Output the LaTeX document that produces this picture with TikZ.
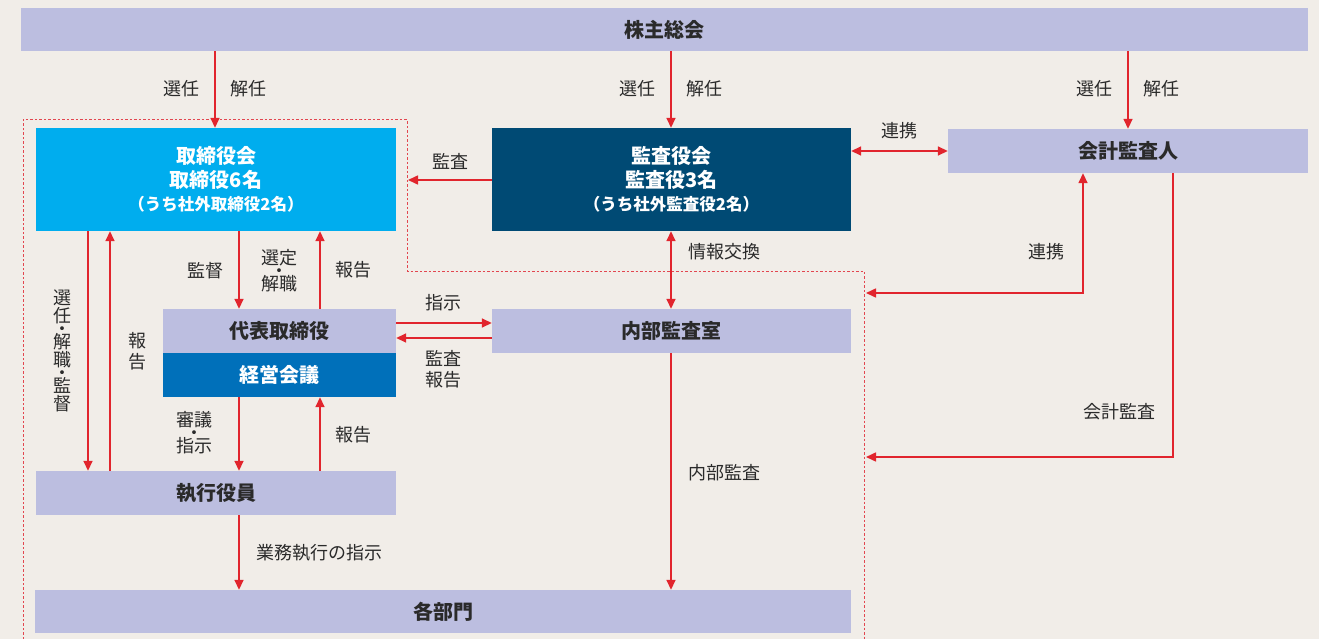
\documentclass[tikz,border=0pt]{standalone}
\usepackage{fontspec}
\setmainfont{Noto Sans CJK JP}
\usetikzlibrary{arrows.meta}
\definecolor{paper}{HTML}{F1EDE8}
\definecolor{lav}{HTML}{BCBEE0}
\definecolor{sky}{HTML}{00ADEE}
\definecolor{navy}{HTML}{004A74}
\definecolor{midblue}{HTML}{0070BA}
\definecolor{arrred}{HTML}{E1252D}
\definecolor{dotred}{HTML}{E2464F}
\definecolor{ink}{HTML}{2A2A2A}
\begin{document}
\begin{tikzpicture}[x=1pt,y=-1pt,
  box/.style={rectangle, inner sep=0pt, fill=lav, text=ink,
    font=\fontsize{20}{24}\selectfont\bfseries, align=center},
  bluebox/.style={box, text=white},
  lbl/.style={inner sep=0pt, text=ink, font=\fontsize{18}{22}\selectfont, align=center},
  arr/.style={draw=arrred, line width=1.6pt, -{Triangle[length=10pt,width=9pt]}},
  arrboth/.style={draw=arrred, line width=1.6pt, {Triangle[length=10pt,width=9pt]}-{Triangle[length=10pt,width=9pt]}},
  bound/.style={draw=dotred, line width=1pt, dash pattern=on 2.5pt off 2pt}
]
\useasboundingbox (0,0) rectangle (1319,639);
\fill[paper] (0,0) rectangle (1319,639);

% dotted boundary of the board area
\draw[bound] (23,639) -- (23,120) -- (407,120) -- (407,271) -- (864,271) -- (864,639);
\coordinate (b1) at (408,180);
\coordinate (b2) at (866,293);
\coordinate (b3) at (866,457);

% column helpers
\coordinate (c88) at (88,0);
\coordinate (c110) at (110,0);
\coordinate (c239) at (239,0);
\coordinate (c320) at (320,0);
\coordinate (c215) at (215,0);
\coordinate (c671) at (671,0);
\coordinate (c1128) at (1128,0);
\coordinate (c1083) at (1083,0);
\coordinate (c1173) at (1173,0);
\coordinate (r323) at (0,323);
\coordinate (r338) at (0,338);

% boxes
\node[box, minimum width=1287pt, minimum height=43pt] (sh) at (664.5,29.5) {株主総会};
\node[bluebox, fill=sky, minimum width=360pt, minimum height=103pt] (tb) at (216,179.5)
  {取締役会\\取締役6名\\[-1pt]{\fontsize{16.5}{20}\selectfont （うち社外取締役2名）}};
\node[bluebox, fill=navy, minimum width=359pt, minimum height=103pt] (ks) at (671.5,179.5)
  {監査役会\\監査役3名\\[-1pt]{\fontsize{16.5}{20}\selectfont （うち社外監査役2名）}};
\node[box, minimum width=360pt, minimum height=44pt] (ka) at (1128,151) {会計監査人};
\node[box, minimum width=233pt, minimum height=44pt] (dh) at (279.5,331) {代表取締役};
\node[bluebox, fill=midblue, minimum width=233pt, minimum height=44pt] (kk) at (279.5,375) {経営会議};
\node[box, minimum width=359pt, minimum height=44pt] (nb) at (671.5,331) {内部監査室};
\node[box, minimum width=360pt, minimum height=44pt] (sy) at (216,493) {執行役員};
\node[box, minimum width=816pt, minimum height=43pt] (kb) at (443,611.5) {各部門};

% connectors
\draw[arr] (sh.south -| c215) -- (tb.north -| c215);
\draw[arr] (sh.south -| c671) -- (ks.north -| c671);
\draw[arr] (sh.south -| c1128) -- (ka.north -| c1128);
\draw[arr] (ks.west |- b1) -- (b1);
\draw[arrboth] (ks.east |- ka.west) -- (ka.west);
\draw[arrboth] (ks.south -| c671) -- (nb.north -| c671);
\draw[arrboth] (b2) -| (ka.south -| c1083);
\draw[arr] (ka.south -| c1173) |- (b3);
\draw[arr] (tb.south -| c239) -- (dh.north -| c239);
\draw[arr] (dh.north -| c320) -- (tb.south -| c320);
\draw[arr] (tb.south -| c88) -- (sy.north -| c88);
\draw[arr] (sy.north -| c110) -- (tb.south -| c110);
\draw[arr] (dh.east |- r323) -- (nb.west |- r323);
\draw[arr] (nb.west |- r338) -- (dh.east |- r338);
\draw[arr] (kk.south -| c239) -- (sy.north -| c239);
\draw[arr] (sy.north -| c320) -- (kk.south -| c320);
\draw[arr] (sy.south -| c239) -- (kb.north -| c239);
\draw[arr] (nb.south -| c671) -- (kb.north -| c671);

% labels
\node[lbl] (l1) at (181,89) {選任};
\node[lbl] (l2) at (248,89) {解任};
\node[lbl] (l3) at (637,89) {選任};
\node[lbl] (l4) at (704,89) {解任};
\node[lbl] (l5) at (1094,89) {選任};
\node[lbl] (l6) at (1161,89) {解任};
\node[lbl] (l7) at (450,161) {監査};
\node[lbl] (l8) at (899.5,131) {連携};
\node[lbl] (l9) at (724,252) {情報交換};
\node[lbl] (l10) at (1046,252) {連携};
\node[lbl] (l11) at (1119,412) {会計監査};
\node[lbl] (l12) at (205,271) {監督};
\node[lbl] (l13) at (279,271) {選定\\[-9pt]・\\[-9pt]解職};
\node[lbl] (l14) at (353,270) {報告};
\node[lbl] (l15) at (443,303) {指示};
\node[lbl] (l16) at (443,369) {監査\\[-1pt]報告};
\node[lbl] (l17) at (194,433) {審議\\[-9pt]・\\[-9pt]指示};
\node[lbl] (l18) at (353,435) {報告};
\node[lbl] (l19) at (319,553) {業務執行の指示};
\node[lbl] (l20) at (724,473) {内部監査};
\node[lbl, font=\fontsize{18}{18}\selectfont] (l21) at (62,351)
  {選\\任\\[-5pt]・\\[-5pt]解\\職\\[-5pt]・\\[-5pt]監\\督};
\node[lbl] (l22) at (137,351) {報\\[-1pt]告};
\end{tikzpicture}
\end{document}
